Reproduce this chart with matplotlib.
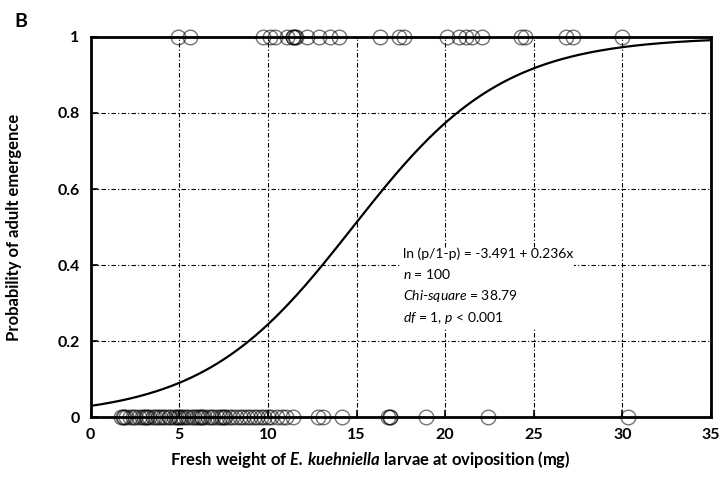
import numpy as np
import matplotlib

matplotlib.use("Agg")
import matplotlib.pyplot as plt

plt.rcParams["font.family"] = ["Lato", "DejaVu Sans"]
plt.rcParams["mathtext.fontset"] = "custom"
plt.rcParams["mathtext.rm"] = "Lato"
plt.rcParams["mathtext.it"] = "Lato:italic"
plt.rcParams["mathtext.bf"] = "Lato:bold"
plt.rcParams["mathtext.bfit"] = "Lato:italic:bold"

# larvae that emerged (1) and did not (0), fresh weight in mg
emerged_x = [4.9, 5.6, 9.7, 10.1, 10.4, 11.1, 11.4, 11.4, 11.5, 11.6, 12.2, 12.9,
             13.5, 14.0, 16.3, 17.4, 17.7, 20.1, 20.8, 21.2, 21.5, 22.1, 24.3,
             24.5, 26.8, 27.2, 30.0]
failed_x = [1.7, 1.8, 1.9, 2.0, 2.2, 2.4, 2.5, 2.7, 2.9, 3.0, 3.1, 3.2, 3.3, 3.5,
            3.6, 3.8, 3.9, 4.1, 4.2, 4.4, 4.5, 4.7, 4.8, 4.9, 5.0, 5.1, 5.2, 5.4,
            5.5, 5.7, 5.8, 6.0, 6.1, 6.2, 6.3, 6.4, 6.6, 6.8, 6.9, 7.1, 7.3, 7.4,
            7.5, 7.6, 7.8, 8.0, 8.2, 8.4, 8.6, 8.8, 9.0, 9.2, 9.4, 9.6, 9.8, 10.0,
            10.2, 10.5, 10.8, 11.0, 11.4, 12.8, 13.1, 14.2, 16.8, 16.9, 16.9, 18.9,
            22.4, 30.3]

# fitted logistic model: ln(p/1-p) = b0 + b1*x
b0 = -3.491
b1 = 0.236

xticks = [0, 5, 10, 15, 20, 25, 30, 35]
yticks = [0, 0.2, 0.4, 0.6, 0.8, 1]
ytick_labels = ["0", "0.2", "0.4", "0.6", "0.8", "1"]

fig = plt.figure(figsize=(7.2, 4.8), dpi=100)
ax = fig.add_axes([0.126, 0.131, 0.8615, 0.792])

xs = np.linspace(0, 35, 300)
ax.plot(xs, 1 / (1 + np.exp(-(b0 + b1 * xs))), color="black", lw=1.6, zorder=3)

ax.plot(emerged_x, np.ones(len(emerged_x)), "o", ms=10.5, mfc="none",
        mec=(0, 0, 0, 0.55), mew=1.0, clip_on=False, zorder=4)
ax.plot(failed_x, np.zeros(len(failed_x)), "o", ms=10.5, mfc="none",
        mec=(0, 0, 0, 0.55), mew=1.0, clip_on=False, zorder=4)

ax.set_xlim(0, 35)
ax.set_ylim(0, 1)
ax.set_xticks(xticks)
ax.set_yticks(yticks)
ax.set_yticklabels(ytick_labels)
ax.grid(True, color="black", lw=0.8, ls=(0, (4, 2, 1, 2)))
ax.tick_params(direction="in", length=5, width=1.2, labelsize=11.5, pad=8)
for lab in ax.get_xticklabels() + ax.get_yticklabels():
    lab.set_fontweight("bold")
for s in ax.spines.values():
    s.set_linewidth(2)

ax.set_ylabel("Probability of adult emergence", fontsize=12, fontweight="bold")
ax.yaxis.set_label_coords(-0.11, 0.5)
ax.set_xlabel(r"Fresh weight of $\mathbfit{E.\,kuehniella}$ larvae at oviposition (mg)",
              fontsize=12, fontweight="bold")
ax.xaxis.set_label_coords(0.45, -0.085)

stats = ("ln (p/1-p) = -3.491 + 0.236x\n"
         r"$\mathit{n}$ = 100" "\n"
         r"$\mathit{Chi}$-$\mathit{square}$ = 38.79" "\n"
         r"$\mathit{df}$ = 1, $\mathit{p}$ < 0.001")
ax.text(17.6, 0.445, stats, fontsize=10, va="top", ha="left", linespacing=1.55,
        bbox=dict(facecolor="white", edgecolor="none", pad=1), zorder=5)

fig.text(0.02, 0.955, "B", fontsize=14, fontweight="bold", va="center")

fig.savefig("out.png", dpi=100)
